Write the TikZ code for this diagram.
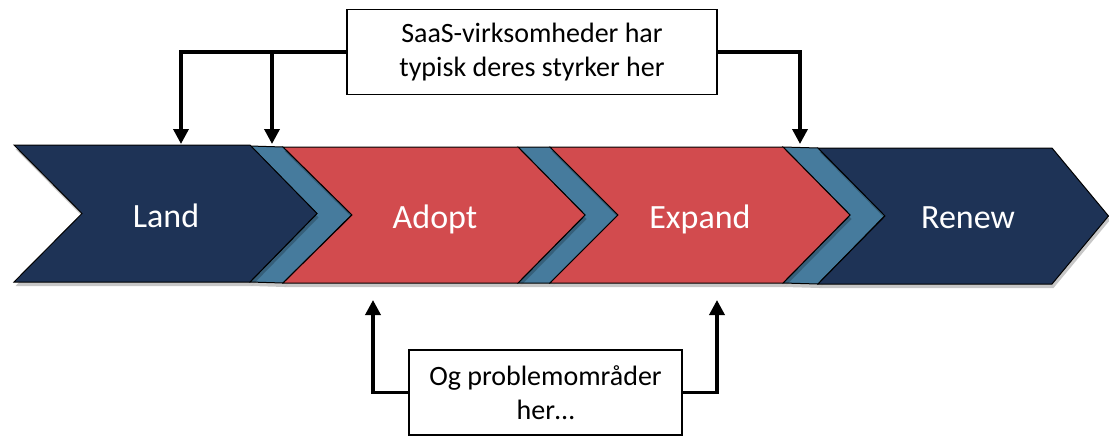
\documentclass[tikz,border=0pt]{standalone}
\usepackage{fontspec}
\setmainfont{Carlito}
\usetikzlibrary{arrows.meta,shadows}
\definecolor{navy}{RGB}{30,51,86}
\definecolor{cred}{RGB}{210,75,78}
\definecolor{steel}{RGB}{70,123,157}
\tikzset{
  chev/.style={draw=black, line width=1pt, line join=miter,
    drop shadow={shadow xshift=1.5pt, shadow yshift=-4pt, opacity=0.22, fill=black}},
  lbl/.style={text=white, font=\fontsize{34}{40}\selectfont, inner sep=0pt, anchor=base},
  note/.style={draw=black, line width=1.3pt, fill=white, align=center,
    font=\fontsize{28}{34}\selectfont, inner sep=0pt},
  arr/.style={line width=3.5pt, -{Triangle[length=15pt,width=15pt]}}
}
\begin{document}
\begin{tikzpicture}[x=1pt,y=-1pt]
\useasboundingbox (0,0) rectangle (1109,437);
% connector chevrons (steel blue, behind)
\path[chev, fill=steel] (250,146) -- (283,147) -- (352,214.5) -- (283,283) -- (250,282) -- (317,213.5) -- cycle;
\path[chev, fill=steel] (518,147) -- (550,147) -- (618,215) -- (550,283) -- (518,283) -- (585,215) -- cycle;
\path[chev, fill=steel] (783,147) -- (818,148) -- (885,215.5) -- (818,284) -- (783,283) -- (850,215) -- cycle;
% main chevrons
\path[chev, fill=navy] (14,145) -- (250,145) -- (317,213.5) -- (250,282) -- (14,282) -- (82,213.5) -- cycle;
\path[chev, fill=cred] (283,147) -- (518,147) -- (585,215) -- (518,283) -- (283,283) -- (352,215) -- cycle;
\path[chev, fill=cred] (550,147) -- (783,147) -- (850,215) -- (783,283) -- (550,283) -- (618,215) -- cycle;
\path[chev, fill=navy] (818,148) -- (1052,148) -- (1108.5,216) -- (1052,284) -- (818,284) -- (885,216) -- cycle;
% labels
\node[lbl] (land) at (166,227.5) {Land};
\node[lbl] (adopt) at (435,228) {Adopt};
\node[lbl] (expand) at (700,228) {Expand};
\node[lbl] (renew) at (968,228.5) {Renew};
% notes
\node[note, minimum width=370pt, minimum height=85pt] (top) at (532,52) {SaaS-virksomheder har\\typisk deres styrker her};
\node[note, minimum width=273pt, minimum height=85pt] (bot) at (545.5,392.5) {Og problemområder\\her…};
% arrow targets
\coordinate (a1) at (181,144);
\coordinate (a2) at (272,144);
\coordinate (a3) at (800,144);
\coordinate (b1) at (373,300);
\coordinate (b2) at (717,300);
% arrows
\draw[arr] (top.west) -| (a1);
\draw[arr] (a2 |- top.west) -- (a2);
\draw[arr] (top.east) -| (a3);
\draw[arr] (bot.west) -| (b1);
\draw[arr] (bot.east) -| (b2);
\end{tikzpicture}
\end{document}
